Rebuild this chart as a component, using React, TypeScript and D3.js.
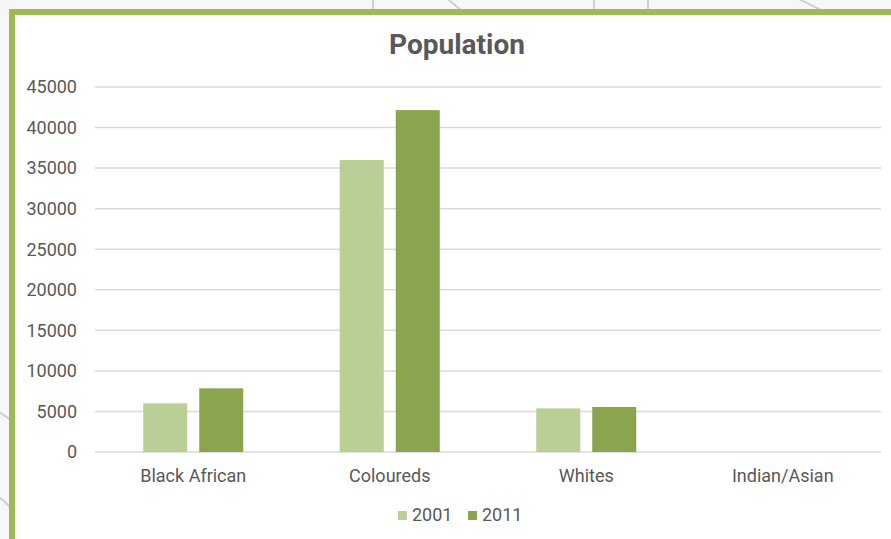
import React from "react";
import * as d3 from "d3";

const categories = ["Black African", "Coloureds", "Whites", "Indian/Asian"];
const series = ["2001", "2011"];
const values2001 = [6000, 36000, 5380, 0];
const values2011 = [7850, 42150, 5550, 0];
const yTicks = [0, 5000, 10000, 15000, 20000, 25000, 30000, 35000, 40000, 45000];
const colors = ["#bacf96", "#8aa54e"];

const W = 891;
const H = 539;
const margin = { top: 87, right: 10, bottom: 87, left: 95 };
const font = "Roboto, 'Noto Sans', sans-serif";
const textColor = "#595959";

// decorative arcs peeking out around the frame
const arcs = [
  { cx: 973, cy: 5, r: 600 },
  { cx: 717, cy: -297, r: 400 },
  { cx: -6, cy: 5, r: 600 },
  { cx: 1248, cy: 5, r: 600 },
  { cx: 987, cy: -354, r: 400 },
  { cx: -56, cy: 505, r: 108 },
  { cx: -56, cy: 567, r: 89 },
];

export default function App() {
  const valuesBySeries = [values2001, values2011];

  const x0 = d3
    .scaleBand<string>()
    .domain(categories)
    .range([margin.left, W - margin.right])
    .paddingInner(0.491)
    .paddingOuter(0.2455);

  const x1 = d3
    .scaleBand<string>()
    .domain(series)
    .range([0, x0.bandwidth()])
    .paddingInner(0.214);

  const y = d3
    .scaleLinear()
    .domain([0, 45000])
    .range([H - margin.bottom, margin.top]);

  const legendX = [398, 468];

  return (
    <div style={{ position: "absolute", left: 0, top: 0 }}>
      <svg width={W} height={H} style={{ display: "block" }}>
        <rect width={W} height={H} fill="#f7f7f7" />
        <g fill="none" stroke="#cfcfcf" strokeWidth={2}>
          {arcs.map((a, i) => (
            <circle key={i} cx={a.cx} cy={a.cy} r={a.r} />
          ))}
        </g>

        {/* chart frame */}
        <rect x={9} y={9} width={W} height={H} fill="#ffffff" />
        <rect x={9} y={9} width={W} height={6} fill="#9bbb59" />
        <rect x={9} y={9} width={6} height={H} fill="#9bbb59" />

        <text
          x={457}
          y={54}
          textAnchor="middle"
          fontFamily={font}
          fontWeight="bold"
          fontSize={28}
          fill={textColor}
        >
          Population
        </text>

        {yTicks.map((t) => (
          <g key={t}>
            <line
              x1={margin.left}
              x2={W - margin.right}
              y1={y(t)}
              y2={y(t)}
              stroke="#d9d9d9"
              strokeWidth={1.5}
            />
            <text
              x={77}
              y={y(t)}
              dy="0.35em"
              textAnchor="end"
              fontFamily={font}
              fontSize={18}
              fill={textColor}
            >
              {t}
            </text>
          </g>
        ))}

        {categories.map((c, i) => (
          <g key={c} transform={`translate(${x0(c)},0)`}>
            {series.map((s, j) => {
              const v = valuesBySeries[j][i];
              return (
                <rect
                  key={s}
                  x={x1(s)}
                  y={y(v)}
                  width={x1.bandwidth()}
                  height={y(0) - y(v)}
                  fill={colors[j]}
                />
              );
            })}
            <text
              x={x0.bandwidth() / 2}
              y={482}
              textAnchor="middle"
              fontFamily={font}
              fontSize={18}
              fill={textColor}
            >
              {c}
            </text>
          </g>
        ))}

        {series.map((s, j) => (
          <g key={s}>
            <rect x={legendX[j]} y={511} width={9} height={9} fill={colors[j]} />
            <text
              x={legendX[j] + 14}
              y={521}
              fontFamily={font}
              fontSize={18}
              fill={textColor}
            >
              {s}
            </text>
          </g>
        ))}
      </svg>
    </div>
  );
}
